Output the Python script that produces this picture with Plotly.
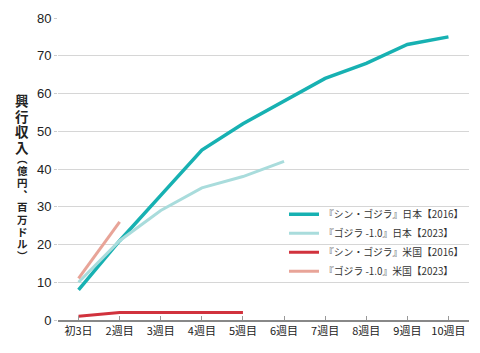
import plotly.graph_objects as go

categories = ["初3日", "2週目", "3週目", "4週目", "5週目", "6週目", "7週目", "8週目", "9週目", "10週目"]
shin_japan = [8, 21, 33, 45, 52, 58, 64, 68, 73, 75]
minus1_japan = [10, 21, 29, 35, 38, 42]
shin_us = [1, 2, 2, 2, 2]
minus1_us = [11, 26]

names = ["『シン・ゴジラ』日本【2016】", "『ゴジラ -1.0』日本【2023】",
         "『シン・ゴジラ』米国【2016】", "『ゴジラ -1.0』米国【2023】"]
colors = ["#17b1b2", "#a9dcdc", "#d1323d", "#e8a498"]
widths = [3.5, 3, 3, 3]
series = [shin_japan, minus1_japan, shin_us, minus1_us]

JP = "Noto Sans CJK JP"
fig = go.Figure()
for nm, vals, c, w in zip(names, series, colors, widths):
    fig.add_trace(go.Scatter(x=categories[:len(vals)], y=vals, mode="lines", name=nm,
                             line=dict(color=c, width=w)))

fig.update_layout(
    width=480, height=353,
    margin=dict(l=58, r=11, t=16, b=33),
    paper_bgcolor="white", plot_bgcolor="white",
    font=dict(family=JP, color="#222"),
    showlegend=True,
    legend=dict(x=1.0, y=0.398, xanchor="right", yanchor="top",
                bgcolor="rgba(255,255,255,0)", font=dict(size=9.8, family=JP, color="#333"),
                tracegroupgap=0, itemwidth=30),
    xaxis=dict(type="category", categoryorder="array", categoryarray=categories,
               range=[-0.5, 9.5], showgrid=False, showline=True, linecolor="#888", linewidth=1.5,
               ticks="inside", ticklen=4, tickcolor="#999",
               tickfont=dict(size=11, family=JP, color="#222"), zeroline=False),
    yaxis=dict(range=[0, 80], dtick=10, showgrid=True, gridcolor="#d6d6d6", gridwidth=1,
               zeroline=False, showline=False, ticks="outside", ticklen=3, tickcolor="#ccc",
               tickfont=dict(size=13, family="Liberation Sans, Arial", color="#222")),
)

# vertical (tategaki) axis title, one glyph per annotation
title_main = list("興行収入")
title_sub = ["︵", "億", "円", "︑", "百", "万", "ド", "ル", "︶"]
xt = (22 - 58) / 411
for i, ch in enumerate(title_main):
    py = 99 + 15.5 * i
    fig.add_annotation(text="<b>" + ch + "</b>", xref="paper", yref="paper",
                       x=xt, y=(320 - py) / 304, xanchor="center", yanchor="middle",
                       showarrow=False, font=dict(size=13.5, family=JP, color="#222"))
for i, ch in enumerate(title_sub):
    py = 157 + 12.3 * i
    fig.add_annotation(text="<b>" + ch + "</b>", xref="paper", yref="paper",
                       x=xt, y=(320 - py) / 304, xanchor="center", yanchor="middle",
                       showarrow=False, font=dict(size=10.5, family=JP, color="#222"))

fig.write_html("out.html")
